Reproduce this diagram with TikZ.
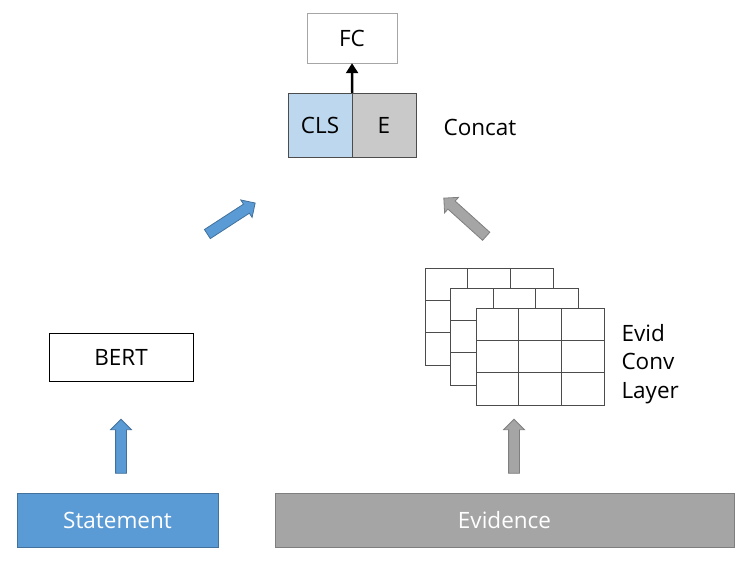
\documentclass[tikz,border=0pt]{standalone}
\usepackage{fontspec}
\setmainfont{Open Sans}
\usetikzlibrary{arrows.meta,shapes.arrows}
\definecolor{stmtblue}{HTML}{5B9BD5}
\definecolor{stmtedge}{HTML}{41719C}
\definecolor{evidgray}{HTML}{A5A5A5}
\definecolor{evidedge}{HTML}{7F7F7F}
\definecolor{clsblue}{HTML}{BDD7EE}
\definecolor{egray}{HTML}{C9C9C9}

\begin{document}
\begin{tikzpicture}[x=1pt,y=-1pt,
  txt/.style={font=\fontsize{22.5}{28.5}\selectfont},
  box/.style={txt, draw, inner sep=0pt},
  cell/.style={box, draw=gray!60!black, minimum width=64pt, minimum height=64pt},
  inbox/.style={box, text=white, minimum height=54pt},
  blockarrow/.style={single arrow, inner xsep=0pt, inner ysep=5pt, minimum width=20pt,
    single arrow head extend=5pt, line width=0.8pt},
  gridline/.style={draw=gray!60!black, line width=1pt}]
  \useasboundingbox (0,0) rectangle (750,568);
  \node[box, draw=gray!70, minimum width=90pt, minimum height=50pt] (fc) at (352,38) {FC};
  \node[cell, fill=clsblue] (cls) at (320,125) {CLS};
  \node[cell, fill=egray] (e) at (384,125) {E};
  \node[txt] (concat) at (480,127) {Concat};
  \draw[line width=2.4pt, -{Triangle[length=10pt,width=12pt]}] (cls.north east) -- (fc.south);

  \node[box, line width=0.8pt, minimum width=144pt, minimum height=48pt] (bert) at (121,357) {BERT};
  \node[inbox, fill=stmtblue, draw=stmtedge, minimum width=201pt] (stmt) at (117.5,520) {Statement};
  \node[inbox, fill=evidgray, draw=evidedge, minimum width=459pt] (evid) at (504.5,520) {Evidence};

  \node[blockarrow, fill=stmtblue, draw=stmtedge, minimum height=54pt, rotate=90] (upblue) at (121,449) {};
  \node[blockarrow, fill=evidgray, draw=evidedge, minimum height=54pt, rotate=90] (upgray) at (514,449) {};
  \node[blockarrow, fill=stmtblue, draw=stmtedge, minimum height=57pt, rotate=33] (toblue) at (229,220) {};
  \node[blockarrow, fill=evidgray, draw=evidedge, minimum height=57pt, rotate=138] (togray) at (467,219) {};

  \foreach \i in {0,1,2}{
    \draw[gridline, fill=white] (425+25.5*\i,268+20*\i) rectangle +(128,97);
    \foreach \k in {1,2}{
      \draw[gridline] (425+25.5*\i+42.67*\k,268+20*\i) -- +(0,97);
      \draw[gridline] (425+25.5*\i,268+20*\i+32.33*\k) -- +(128,0);
    }
  }
  \node[txt, align=left, anchor=west] (layer) at (618,364) {Evid\\Conv\\Layer};
\end{tikzpicture}
\end{document}
